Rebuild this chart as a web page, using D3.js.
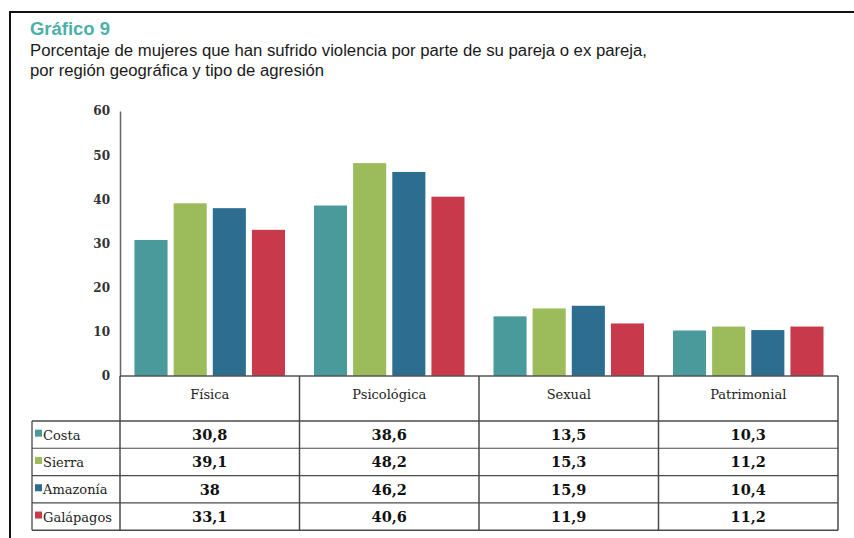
<!DOCTYPE html>
<html>
<head>
<meta charset="utf-8">
<script src="https://cdn.jsdelivr.net/npm/d3@7"></script>
<style>
  body { margin: 0; background: #fff; }
  svg { display: block; }
</style>
</head>
<body>
<div id="chart"></div>
<script>
// data
var categories = ['Física', 'Psicológica', 'Sexual', 'Patrimonial'];
var regions = ['Costa', 'Sierra', 'Amazonía', 'Galápagos'];
var costa = [30.8, 38.6, 13.5, 10.3];
var sierra = [39.1, 48.2, 15.3, 11.2];
var amazonia = [38, 46.2, 15.9, 10.4];
var galapagos = [33.1, 40.6, 11.9, 11.2];
var yTicks = [0, 10, 20, 30, 40, 50, 60];
var colors = ['#4a999b', '#9cbb5a', '#2d6d90', '#c83a4b'];

var series = [costa, sierra, amazonia, galapagos];

var width = 854, height = 538;

var svg = d3.select('#chart')
    .append('svg')
    .attr('width', width)
    .attr('height', height);

// frame
svg.append('path')
    .attr('d', 'M10,545 L10,12 L860,12')
    .attr('fill', 'none')
    .attr('stroke', '#111')
    .attr('stroke-width', 2);

// titles
svg.append('text')
    .attr('x', 30).attr('y', 35)
    .attr('font-family', 'Liberation Sans, Arial, sans-serif')
    .attr('font-weight', 'bold')
    .attr('font-size', 18)
    .attr('fill', '#4bb0a9')
    .attr('textLength', 80)
    .attr('lengthAdjust', 'spacingAndGlyphs')
    .text('Gráfico 9');

svg.append('text')
    .attr('x', 30).attr('y', 56)
    .attr('font-family', 'Liberation Sans, Arial, sans-serif')
    .attr('font-size', 16)
    .attr('fill', '#1a1a1a')
    .attr('textLength', 617)
    .attr('lengthAdjust', 'spacingAndGlyphs')
    .text('Porcentaje de mujeres que han sufrido violencia por parte de su pareja o ex pareja,');

svg.append('text')
    .attr('x', 30).attr('y', 76)
    .attr('font-family', 'Liberation Sans, Arial, sans-serif')
    .attr('font-size', 16)
    .attr('fill', '#1a1a1a')
    .attr('textLength', 294)
    .attr('lengthAdjust', 'spacingAndGlyphs')
    .text('por región geográfica y tipo de agresión');

// scales
var x0 = d3.scaleBand()
    .domain(categories)
    .range([120, 838]);

var x1 = d3.scaleBand()
    .domain(regions)
    .range([0, x0.bandwidth()])
    .paddingInner(0.155)
    .paddingOuter(0.37);

var y = d3.scaleLinear()
    .domain([0, 60])
    .range([376, 111]);

// bars
var groups = svg.selectAll('.group')
    .data(categories)
    .enter()
    .append('g')
    .attr('class', 'group')
    .attr('transform', d => `translate(${x0(d)},0)`);

groups.selectAll('rect')
    .data((c, ci) => regions.map((r, ri) => ({region: r, value: series[ri][ci], i: ri})))
    .enter()
    .append('rect')
    .attr('x', d => x1(d.region))
    .attr('y', d => y(d.value))
    .attr('width', x1.bandwidth())
    .attr('height', d => y(0) - y(d.value))
    .attr('fill', d => colors[d.i]);

// y axis
var yAxis = d3.axisLeft(y)
    .tickValues(yTicks)
    .tickSize(0)
    .tickPadding(10);

var yg = svg.append('g')
    .attr('transform', 'translate(120,0)')
    .call(yAxis);

yg.select('.domain')
    .attr('stroke', '#666')
    .attr('stroke-width', 1.5);

yg.selectAll('text')
    .attr('font-family', 'DejaVu Serif, Georgia, serif')
    .attr('font-weight', 'bold')
    .attr('font-size', 12)
    .attr('fill', '#333');

// table
var tableTop = 376;
var headerBottom = 421;
var rowH = 27.3;
var legendLeft = 32;
var tableRight = 838;
var tableBottom = headerBottom + rowH * regions.length;
var lineColor = '#4a4a4a';

var table = svg.append('g');

// header labels
table.selectAll('.head')
    .data(categories)
    .enter()
    .append('text')
    .attr('x', d => x0(d) + x0.bandwidth() / 2)
    .attr('y', 399)
    .attr('text-anchor', 'middle')
    .attr('font-family', 'DejaVu Serif, Georgia, serif')
    .attr('font-size', 13)
    .attr('fill', '#222')
    .text(d => d);

// horizontal lines
table.append('line')
    .attr('x1', 120).attr('x2', tableRight)
    .attr('y1', tableTop).attr('y2', tableTop)
    .attr('stroke', '#555').attr('stroke-width', 1.5);

d3.range(regions.length + 1).forEach(function(i) {
    table.append('line')
        .attr('x1', legendLeft).attr('x2', tableRight)
        .attr('y1', headerBottom + i * rowH).attr('y2', headerBottom + i * rowH)
        .attr('stroke', lineColor)
        .attr('stroke-width', i == 0 || i == regions.length ? 1.6 : 1.1);
});

// vertical lines
var vx = categories.map(c => x0(c)).concat([tableRight]);
vx.forEach(function(xv, i) {
    table.append('line')
        .attr('x1', xv).attr('x2', xv)
        .attr('y1', i == 0 ? y(0) : tableTop).attr('y2', tableBottom)
        .attr('stroke', lineColor)
        .attr('stroke-width', 1.5);
});
table.append('line')
    .attr('x1', legendLeft).attr('x2', legendLeft)
    .attr('y1', headerBottom).attr('y2', tableBottom)
    .attr('stroke', lineColor)
    .attr('stroke-width', 1.3);

// legend column
regions.forEach(function(r, ri) {
    var cy = headerBottom + ri * rowH + rowH / 2;
    table.append('rect')
        .attr('x', 35).attr('y', cy - 5)
        .attr('width', 7).attr('height', 7)
        .attr('fill', colors[ri]);
    table.append('text')
        .attr('x', 43).attr('y', cy + 5)
        .attr('font-family', 'DejaVu Serif, Georgia, serif')
        .attr('font-size', 13)
        .attr('fill', '#222')
        .text(r);

    table.selectAll('.val' + ri)
        .data(categories)
        .enter()
        .append('text')
        .attr('x', d => x0(d) + x0.bandwidth() / 2)
        .attr('y', cy + 5.5)
        .attr('text-anchor', 'middle')
        .attr('font-family', 'DejaVu Serif, Georgia, serif')
        .attr('font-weight', 'bold')
        .attr('font-size', 14.5)
        .attr('fill', '#111')
        .text((d, ci) => String(series[ri][ci]).replace('.', ','));
});
</script>
</body>
</html>
